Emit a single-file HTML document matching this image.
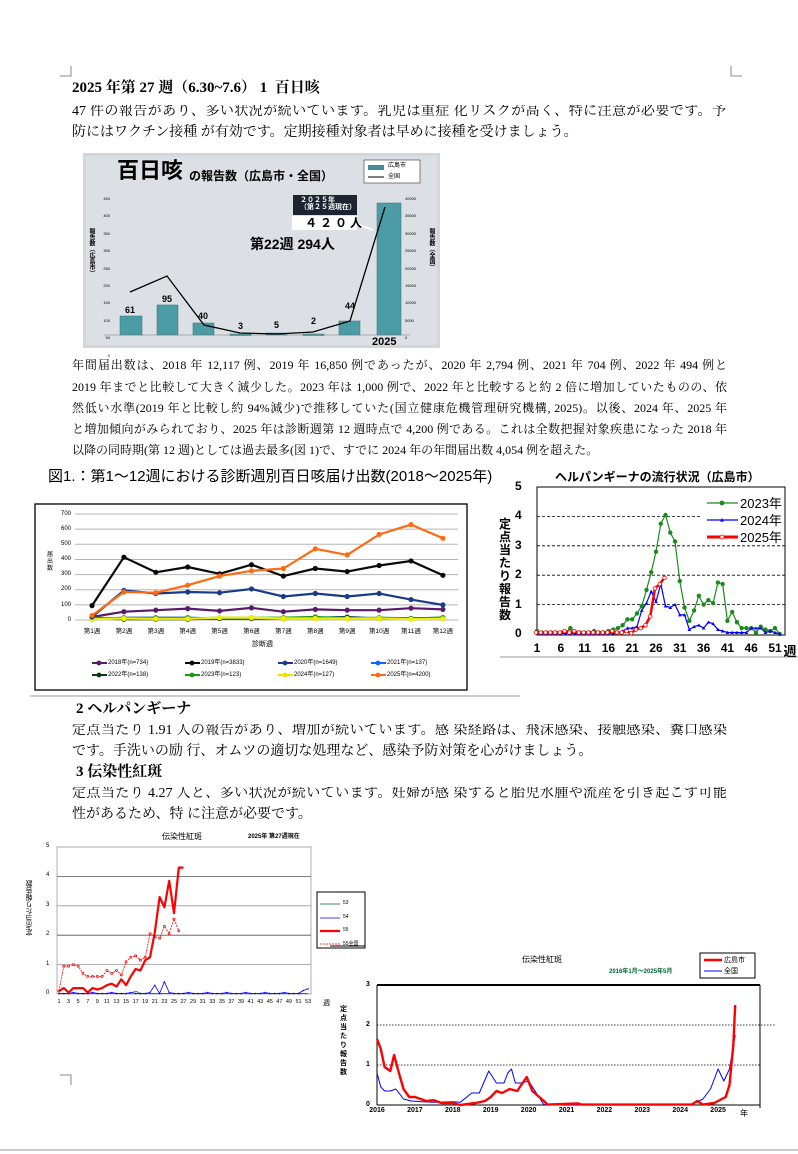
<!DOCTYPE html>
<html><head><meta charset="utf-8">
<style>
*{margin:0;padding:0;box-sizing:border-box}
body{width:798px;height:1154px;background:#fff;position:relative;overflow:hidden;font-family:"Liberation Serif","Noto Serif CJK SC",serif;color:#000}
.t{position:absolute;white-space:nowrap;line-height:1}
.j{position:absolute;white-space:nowrap;text-align:justify;text-align-last:justify;line-height:1;overflow:hidden}
.s{font-family:"Liberation Sans","Noto Sans CJK JP",sans-serif}
svg{position:absolute;left:0;top:0}
</style></head><body>
<svg id="s" width="798" height="1154" viewBox="0 0 798 1154">
<path d="M71 66V76H60M731 66V76H742M71 1085V1075H60" stroke="#888" fill="none" stroke-width="1"/>
<line x1="0" y1="1150" x2="798" y2="1150" stroke="#999"/>
<rect x="83" y="153" width="357" height="195" fill="#d3d7dc"/>
<rect x="86" y="156" width="351" height="189" fill="#dcdfe3"/>
<rect x="364" y="160" width="56" height="23" fill="#fff" stroke="#333" stroke-width="0.6"/>
<rect x="368" y="165" width="16" height="5" fill="#3f8f9a"/>
<line x1="368" y1="177" x2="384" y2="177" stroke="#000" stroke-width="1"/>
<g fill="#4c9ca6" stroke="#2f7680" stroke-width="0.5">
<rect x="120" y="316" width="22" height="19"/><rect x="157" y="305" width="21" height="30"/>
<rect x="193" y="323" width="21" height="12"/><rect x="230" y="334" width="21" height="1.5"/>
<rect x="266" y="333" width="21" height="2"/><rect x="303" y="334" width="21" height="1.5"/>
<rect x="339" y="321" width="21" height="14"/><rect x="377" y="203" width="24" height="132"/>
</g>
<polyline points="130,292 167,276 204,325 240,333 277,334 313,332 350,321 385,207" fill="none" stroke="#000" stroke-width="1.3"/>
<rect x="293" y="195" width="64" height="20" fill="#1d2330"/>
<rect x="292" y="216" width="65" height="14" fill="#fff"/>
<line x1="357" y1="224" x2="373" y2="230" stroke="#fff" stroke-width="2"/>
<line x1="104" y1="335" x2="410" y2="335" stroke="#777" stroke-width="0.5"/>
<rect x="35" y="504" width="432" height="186" fill="#fff" stroke="#000" stroke-width="1.3"/>
<line x1="30" y1="696" x2="520" y2="696" stroke="#999"/>
<rect x="537" y="487" width="248" height="148" fill="#fff" stroke="#000" stroke-width="1"/>
<line x1="500" y1="657" x2="798" y2="657" stroke="#999"/>
<rect x="57" y="847" width="254" height="147" fill="#fff" stroke="#999" stroke-width="0.8"/>
<rect x="317" y="892" width="48" height="56" fill="#fff" stroke="#000" stroke-width="1"/>
<rect x="700" y="953" width="55" height="25" fill="#fff" stroke="#000" stroke-width="1"/>
<line x1="704" y1="960" x2="722" y2="960" stroke="#f00" stroke-width="2.5"/>
<line x1="704" y1="971" x2="722" y2="971" stroke="#00f" stroke-width="1"/>
<line x1="330" y1="946" x2="365" y2="946" stroke="#000" stroke-width="1"/>
<line x1="377" y1="985" x2="760" y2="985" stroke="#000" stroke-width="2"/>
<line x1="377" y1="985" x2="377" y2="1105" stroke="#000" stroke-width="1"/>
<line x1="760" y1="985" x2="760" y2="1108" stroke="#000" stroke-width="1"/>
<line x1="377" y1="1105" x2="760" y2="1105" stroke="#000" stroke-width="1"/>
<line x1="377" y1="1025" x2="776" y2="1025" stroke="#000" stroke-width="0.8" stroke-dasharray="1.5,1.5"/>
<line x1="377" y1="1065" x2="760" y2="1065" stroke="#000" stroke-width="0.8" stroke-dasharray="1.5,1.5"/>
</svg>

<div class="t" style="left:72px;top:81px;font-size:15px;font-weight:bold">2025 年第 27 週（6.30~7.6） 1&nbsp; 百日咳</div>
<div class="j" style="left:72px;top:105px;width:654px;font-size:14px">47 件の報告があり、多い状況が続いています。乳児は重症 化リスクが高く、特に注意が必要です。予</div>
<div class="t" style="left:72px;top:126px;font-size:14px">防にはワクチン接種 が有効です。定期接種対象者は早めに接種を受けましょう。</div>

<div class="t s" style="left:117px;top:160px;font-size:22px;font-weight:bold">百日咳</div>
<div class="t s" style="left:189px;top:170px;font-size:12px;font-weight:bold">の報告数（広島市・全国）</div>
<div class="t s" style="left:388px;top:163px;font-size:6px">広島市</div>
<div class="t s" style="left:388px;top:174px;font-size:6px">全国</div>
<div class="t s" style="left:300px;top:197px;font-size:7px;color:#fff;font-weight:bold">２０２５年<br>（第２５週現在）</div>
<div class="t s" style="left:305px;top:217px;font-size:12px;font-weight:bold;letter-spacing:3px">４２０人</div>
<div class="t s" style="left:250px;top:237px;font-size:14px;font-weight:bold">第22週 294人</div>
<div class="t s" style="left:125px;top:306px;font-size:9px;font-weight:bold">61</div>
<div class="t s" style="left:162px;top:295px;font-size:9px;font-weight:bold">95</div>
<div class="t s" style="left:198px;top:312px;font-size:9px;font-weight:bold">40</div>
<div class="t s" style="left:238px;top:322px;font-size:9px;font-weight:bold">3</div>
<div class="t s" style="left:274px;top:321px;font-size:9px;font-weight:bold">5</div>
<div class="t s" style="left:311px;top:317px;font-size:9px;font-weight:bold">2</div>
<div class="t s" style="left:345px;top:302px;font-size:9px;font-weight:bold">44</div>
<div class="t s" style="left:372px;top:337px;font-size:11px;font-weight:bold">2025</div>
<div class="t s" style="left:88px;top:228px;font-size:6px;font-weight:bold;writing-mode:vertical-rl">報告数（広島市）</div>
<div class="t s" style="left:428px;top:228px;font-size:6px;font-weight:bold;writing-mode:vertical-rl">報告数（全国）</div>
<div class="t s" style="left:100px;top:190px;font-size:4px;line-height:17.4px;text-align:right;width:10px">450<br>400<br>350<br>300<br>250<br>200<br>150<br>100<br>50<br>0</div>
<div class="t s" style="left:405px;top:190px;font-size:4px;line-height:17.4px;width:14px">40000<br>35000<br>30000<br>25000<br>20000<br>15000<br>10000<br>5000<br>0</div>

<div class="j" style="left:72px;top:359px;width:655px;font-size:12px">年間届出数は、2018 年 12,117 例、2019 年 16,850 例であったが、2020 年 2,794 例、2021 年 704 例、2022 年 494 例と</div>
<div class="j" style="left:72px;top:381px;width:655px;font-size:12px">2019 年までと比較して大きく減少した。2023 年は 1,000 例で、2022 年と比較すると約 2 倍に増加していたものの、依</div>
<div class="j" style="left:72px;top:402px;width:655px;font-size:12px">然低い水準(2019 年と比較し約 94%減少)で推移していた(国立健康危機管理研究機構, 2025)。以後、2024 年、2025 年</div>
<div class="j" style="left:72px;top:423px;width:655px;font-size:12px">と増加傾向がみられており、2025 年は診断週第 12 週時点で 4,200 例である。これは全数把握対象疾患になった 2018 年</div>
<div class="t" style="left:72px;top:444px;font-size:12px">以降の同時期(第 12 週)としては過去最多(図 1)で、すでに 2024 年の年間届出数 4,054 例を超えた。</div>

<div class="t s" style="left:48px;top:469px;font-size:15px;width:452px;overflow:hidden">図1.：第1～12週における診断週別百日咳届け出数(2018～2025年)</div>
<div class="t s" style="left:555px;top:471px;font-size:12px;font-weight:bold">ヘルパンギーナの流行状況（広島市）</div>

<div class="t" style="left:76px;top:702px;font-size:15px;font-weight:bold">2 ヘルパンギーナ</div>
<div class="j" style="left:72px;top:724px;width:655px;font-size:14px">定点当たり 1.91 人の報告があり、増加が続いています。感 染経路は、飛沫感染、接触感染、糞口感染</div>
<div class="t" style="left:72px;top:745px;font-size:14px">です。手洗いの励 行、オムツの適切な処理など、感染予防対策を心がけましょう。</div>
<div class="t" style="left:76px;top:765px;font-size:15px;font-weight:bold">3 伝染性紅斑</div>
<div class="j" style="left:72px;top:787px;width:655px;font-size:14px">定点当たり 4.27 人と、多い状況が続いています。妊婦が感 染すると胎児水腫や流産を引き起こす可能</div>
<div class="t" style="left:72px;top:808px;font-size:14px">性があるため、特 に注意が必要です。</div>

<div class="t s" style="left:515px;top:472px;font-size:12px;font-weight:bold;line-height:29.4px">5<br>4<br>3<br>2<br>1<br>0</div>
<div class="t s" style="left:499px;top:518px;font-size:12px;font-weight:bold;line-height:13px;width:14px;white-space:normal">定点当たり報告数</div>
<div class="t s" style="left:740px;top:495px;font-size:13px;line-height:17px">2023年<br>2024年<br>2025年</div>
<div id="hx" class="s"></div>

<div class="t s" style="left:162px;top:833px;font-size:8px">伝染性紅斑</div>
<div class="t s" style="left:248px;top:834px;font-size:6px;font-weight:bold">2025年 第27週現在</div>
<div class="t s" style="left:46px;top:832px;font-size:6px;line-height:29.4px">5<br>4<br>3<br>2<br>1<br>0</div>
<div class="t s" style="left:26px;top:880px;font-size:7px;writing-mode:vertical-rl;transform:rotate(180deg)">定点当たり報告数</div>
<div class="t s" style="left:343px;top:897px;font-size:5px;line-height:13.5px">53<br>54<br>55<br>55全国</div>
<div class="t s" style="left:323px;top:1000px;font-size:7px">週</div>
<div id="c4x" class="s"></div>

<div class="t s" style="left:522px;top:956px;font-size:8px">伝染性紅斑</div>
<div class="t s" style="left:609px;top:969px;font-size:6px;color:#063;font-weight:bold">2016年1月～2025年5月</div>
<div class="t s" style="left:724px;top:955px;font-size:7px;line-height:11px">広島市<br>全国</div>
<div class="t s" style="left:366px;top:965px;font-size:7px;font-weight:bold;line-height:40px">3<br>2<br>1<br>0</div>
<div class="t s" style="left:340px;top:1005px;font-size:7px;font-weight:bold;line-height:9px;width:9px;white-space:normal">定点当たり報告数</div>
<div class="t s" style="left:740px;top:1110px;font-size:8px">年</div>
<div id="c5x" class="s"></div>

<div class="t s" style="left:59px;top:507px;font-size:6px;line-height:15.1px;text-align:right;width:12px">700<br>600<br>500<br>400<br>300<br>200<br>100<br>0</div>
<div class="t s" style="left:47px;top:552px;font-size:6px;width:7px;white-space:normal;line-height:7px">届出数</div>
<div class="t s" style="left:252px;top:641px;font-size:7px">診断週</div>
<div id="f1x" class="s"></div>

<script>
const S=document.getElementById('s');const NS='http://www.w3.org/2000/svg';
function el(t,a){const e=document.createElementNS(NS,t);for(const k in a)e.setAttribute(k,a[k]);S.appendChild(e);return e;}
function pl(p,c,w,d){el('polyline',{points:p.map(q=>q[0].toFixed(1)+','+q[1].toFixed(1)).join(' '),fill:'none',stroke:c,'stroke-width':w,'stroke-dasharray':d||'none','stroke-linejoin':'round'});}
function mk(p,c,r,f){p.forEach(q=>el('circle',{cx:q[0],cy:q[1],r:r,fill:f||c,stroke:c,'stroke-width':0.8}));}
function tri(p,c,r){p.forEach(q=>el('polygon',{points:`${q[0]},${q[1]-r} ${q[0]-r},${q[1]+r*0.8} ${q[0]+r},${q[1]+r*0.8}`,fill:c}));}
function lbl(id,x,y,s,fs,b){const d=document.createElement('div');d.className='t s';d.style.cssText=`left:${x}px;top:${y}px;font-size:${fs}px;${b?'font-weight:bold;':''}transform:translateX(-50%)`;d.textContent=s;document.getElementById(id).appendChild(d);}
const fx=i=>92+i*31.9,fy=v=>620-v*0.1514;
for(let v=0;v<=700;v+=100)el('line',{x1:75,y1:fy(v),x2:458,y2:fy(v),stroke:'#b5b5b5','stroke-width':1});
const F=[['#5a1a6a',[20,55,65,75,60,80,55,70,65,65,78,70]],['#1a5a9a',[5,15,15,15,10,10,10,15,20,10,10,10]],['#0a3a0a',[10,5,5,5,10,10,10,15,15,10,10,15]],['#1a9a1a',[15,10,10,10,15,15,15,20,10,15,10,15]],['#f0f000',[5,10,8,8,15,15,10,10,10,10,5,8]],['#0a0a0a',[95,415,315,350,305,365,290,340,320,360,390,295]],['#1a3a8a',[20,195,175,185,180,205,155,175,155,175,135,100]],['#ff6a10',[30,185,180,230,290,325,340,470,430,565,630,540]]];
F.forEach(s=>{const p=s[1].map((v,i)=>[fx(i),fy(v)]);pl(p,s[0],2.2);mk(p,s[0],2.2);});
for(let i=0;i<12;i++)lbl('f1x',fx(i),629,'第'+(i+1)+'週',6.5);
const LG=[['#5a1a6a','2018年(n=734)'],['#0a0a0a','2019年(n=3833)'],['#1a3a8a','2020年(n=1649)'],['#0a6aff','2021年(n=137)'],['#0a3a0a','2022年(n=138)'],['#1a9a1a','2023年(n=123)'],['#f0e000','2024年(n=127)'],['#ff6a10','2025年(n=4200)']];
LG.forEach((g,k)=>{const x=92+(k%4)*93,y=k<4?663:675;el('line',{x1:x,y1:y,x2:x+15,y2:y,stroke:g[0],'stroke-width':2});mk([[x+7,y]],g[0],2);const d=document.createElement('div');d.className='t s';d.style.cssText=`left:${x+16}px;top:${y-3.5}px;font-size:6px`;d.textContent=g[1];document.getElementById('f1x').appendChild(d);});
const hx=w=>537+(w-1)*4.76,hy=v=>634-v*29.4;
[[1,785],[2,785],[3,785],[4,700]].forEach(g=>el('line',{x1:537,y1:hy(g[0]),x2:g[1],y2:hy(g[0]),stroke:'#000','stroke-width':0.8,'stroke-dasharray':'3,2'}));
const h23=[0.1,0.05,0.05,0.05,0.05,0.05,0.05,0.2,0.05,0.05,0.05,0.05,0.1,0.05,0.05,0.1,0.15,0.2,0.3,0.5,0.5,0.7,0.95,1.5,2.1,2.8,3.75,4.05,3.45,3.15,1.8,0.9,0.45,0.8,1.3,1.0,1.15,1.05,1.75,1.7,0.45,0.75,0.4,0.2,0.2,0.2,0.05,0.25,0.15,0.1,0.2,0];
const h24=[0.03,0.02,0.02,0.02,0.02,0.02,0.02,0.02,0.02,0.02,0.02,0.02,0.02,0.02,0.02,0.02,0.03,0.05,0.1,0.2,0.2,0.25,0.8,1.05,1.45,1.1,1.7,0.95,0.9,1.0,0.65,0.65,0.15,0.25,0.3,0.2,0.4,0.35,0.15,0.1,0.05,0.05,0.05,0.05,0.05,0.2,0.2,0.2,0.05,0.1,0.05,0];
const h25=[0.05,0.05,0.05,0.05,0.05,0.05,0.1,0.05,0.1,0.05,0.05,0.05,0.05,0.05,0.05,0.05,0.1,0.05,0.05,0.1,0.03,0.15,0.2,0.3,0.6,1.55,1.7,1.91];
let p=h23.map((v,i)=>[hx(i+1),hy(v)]);pl(p,'#1a8a1a',1.2);mk(p,'#1a8a1a',1.8);
p=h24.map((v,i)=>[hx(i+1),hy(v)]);pl(p,'#0000ff',1.2);tri(p,'#0000ff',1.8);
p=h25.map((v,i)=>[hx(i+1)-1,hy(v)]);pl(p,'#ff0000',2.5);mk(p,'#ff0000',1.8,'#fff');
el('line',{x1:707,y1:503,x2:738,y2:503,stroke:'#1a8a1a','stroke-width':1.2});mk([[722,503]],'#1a8a1a',2);
el('line',{x1:707,y1:520,x2:738,y2:520,stroke:'#0000ff','stroke-width':1.2});tri([[722,520]],'#0000ff',2);
el('line',{x1:707,y1:537,x2:738,y2:537,stroke:'#ff0000','stroke-width':3});mk([[722,537]],'#ff0000',2,'#fff');
for(let w=1;w<=51;w+=5)lbl('hx',hx(w),642,String(w),12,1);
lbl('hx',790,645,'週',13,1);
const cx=w=>59+(w-1)*4.79,cy=v=>994-v*29.4;
[1,2,3,4].forEach(v=>el('line',{x1:57,y1:cy(v),x2:311,y2:cy(v),stroke:v%2?'#999':'#555','stroke-width':0.8}));
const r25=[0.1,0.2,0.05,0.2,0.2,0.2,0.05,0.2,0.15,0.2,0.3,0.35,0.25,0.5,0.3,0.6,0.85,0.8,1.15,1.25,2.1,3.3,2.95,3.85,2.75,4.3,4.3];
const n25=[0.1,0.95,0.95,1.0,0.95,0.7,0.6,0.6,0.6,0.6,0.8,0.7,0.8,0.65,1.1,1.25,1.3,1.15,1.25,2.05,1.95,1.9,2.3,2.05,2.55,2.15];
const b24=[];for(let w=1;w<=53;w++)b24.push(w==21?0.3:w==23?0.42:w==52?0.12:w==53?0.18:(w%4==0?0.05:0.02));
const g23=[];for(let w=1;w<=53;w++)g23.push(w==17?0.1:0.02);
p=g23.map((v,i)=>[cx(i+1),cy(v)]);pl(p,'#063',0.7);
p=b24.map((v,i)=>[cx(i+1),cy(v)]);pl(p,'#00f',0.8);tri(p,'#00f',1);
p=n25.map((v,i)=>[cx(i+1),cy(v)]);pl(p,'#f00',0.8,'2,1');mk(p,'#f00',1,'#fff');
p=r25.map((v,i)=>[cx(i+1),cy(v)]);pl(p,'#f00',2.2);
[[904,'#063',0.8,''],[918,'#00f',0.8,''],[931,'#f00',2.2,''],[944,'#f00',0.8,'2,1']].forEach(g=>el('line',{x1:320,y1:g[0],x2:340,y2:g[0],stroke:g[1],'stroke-width':g[2],'stroke-dasharray':g[3]||'none'}));
for(let w=1;w<=53;w+=2)lbl('c4x',cx(w),1000,String(w),5.5);
const dx=t=>377+(t-2016)*37.9,dy=v=>1105-v*40;
const R=[[2016,1.65],[2016.1,1.4],[2016.2,0.95],[2016.35,0.85],[2016.45,1.25],[2016.55,0.9],[2016.7,0.4],[2016.85,0.2],[2017,0.2],[2017.3,0.1],[2017.5,0.12],[2017.7,0.05],[2018,0.05],[2018.2,0],[2018.6,0.05],[2018.85,0.1],[2019,0.2],[2019.15,0.35],[2019.3,0.3],[2019.5,0.4],[2019.7,0.35],[2019.95,0.7],[2020.1,0.35],[2020.4,0.1],[2020.5,0.01],[2021.3,0.04],[2021.4,0.01],[2024.3,0.01],[2024.45,0.1],[2024.6,0.01],[2024.9,0.05],[2025,0.1],[2025.2,0.2],[2025.3,0.5],[2025.4,1.5],[2025.45,2.5]];
const B=[[2016,0.8],[2016.1,0.45],[2016.2,0.35],[2016.35,0.35],[2016.5,0.4],[2016.7,0.15],[2016.9,0.1],[2017.2,0.08],[2017.5,0.07],[2018,0.08],[2018.2,0.07],[2018.5,0.3],[2018.7,0.3],[2018.95,0.85],[2019.15,0.55],[2019.35,0.55],[2019.45,0.8],[2019.55,0.9],[2019.65,0.55],[2019.8,0.55],[2020,0.6],[2020.4,0.01],[2024.3,0.01],[2024.6,0.15],[2024.8,0.4],[2025,0.9],[2025.15,0.6],[2025.3,0.9],[2025.45,1.75]];
pl(B.map(q=>[dx(q[0]),dy(q[1])]),'#00f',1);
pl(R.map(q=>[dx(q[0]),dy(q[1])]),'#f00',2.4);
for(let y=2016;y<=2025;y++)lbl('c5x',dx(y),1107,String(y),7,1);
</script>
</body></html>
